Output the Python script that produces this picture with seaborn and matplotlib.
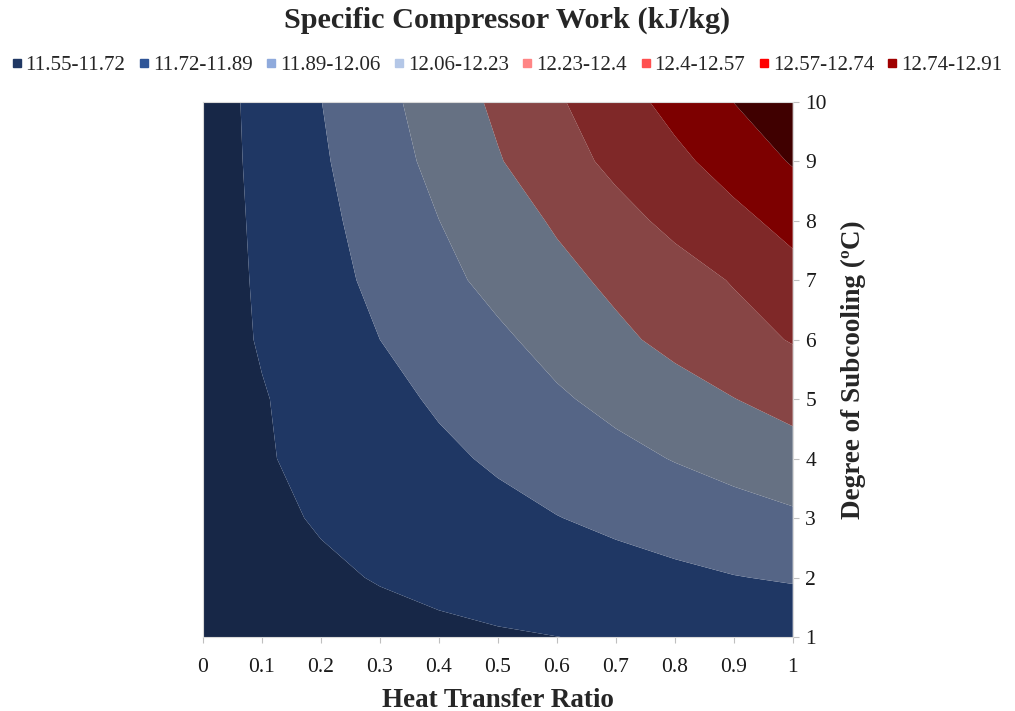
import matplotlib
matplotlib.use("Agg")
import numpy as np
import pandas as pd
import matplotlib.pyplot as plt
from matplotlib.lines import Line2D
import seaborn as sns

# heat transfer ratio (x) and degree of subcooling (y)
heat_ratio = [0.0, 0.1, 0.2, 0.3, 0.4, 0.5, 0.6, 0.7, 0.8, 0.9, 1.0]
subcooling = [1, 2, 3, 4, 5, 6, 7, 8, 9, 10]

# specific compressor work (kJ/kg), one row per subcooling degree
w_sc1 = [11.639, 11.653, 11.666, 11.680, 11.693, 11.707, 11.719, 11.734, 11.747, 11.761, 11.774]
w_sc2 = [11.647, 11.673, 11.700, 11.727, 11.753, 11.779, 11.806, 11.832, 11.858, 11.885, 11.904]
w_sc3 = [11.650, 11.692, 11.731, 11.770, 11.808, 11.847, 11.886, 11.923, 11.961, 11.998, 12.035]
w_sc4 = [11.648, 11.707, 11.758, 11.809, 11.860, 11.911, 11.963, 12.016, 12.067, 12.115, 12.162]
w_sc5 = [11.645, 11.711, 11.778, 11.844, 11.910, 11.975, 12.040, 12.103, 12.165, 12.227, 12.287]
w_sc6 = [11.648, 11.732, 11.811, 11.890, 11.962, 12.033, 12.113, 12.197, 12.272, 12.341, 12.410]
w_sc7 = [11.646, 11.740, 11.834, 11.927, 12.018, 12.104, 12.185, 12.263, 12.335, 12.410, 12.511]
w_sc8 = [11.644, 11.748, 11.852, 11.955, 12.059, 12.154, 12.249, 12.347, 12.439, 12.526, 12.623]
w_sc9 = [11.644, 11.757, 11.871, 11.987, 12.104, 12.219, 12.332, 12.438, 12.532, 12.639, 12.753]
w_sc10 = [11.642, 11.765, 11.888, 12.012, 12.137, 12.260, 12.381, 12.501, 12.621, 12.742, 12.883]

levels = [11.55, 11.72, 11.89, 12.06, 12.23, 12.40, 12.57, 12.74, 12.91]
band_labels = ["11.55-11.72", "11.72-11.89", "11.89-12.06", "12.06-12.23",
               "12.23-12.4", "12.4-12.57", "12.57-12.74", "12.74-12.91"]

fill_colors = ["#172747", "#1f3764", "#556586", "#667183",
               "#874545", "#7f2828", "#7d0000", "#400000"]
legend_colors = ["#203864", "#2f5597", "#8faadc", "#b4c7e7",
                 "#ff8585", "#ff5050", "#ff0000", "#a00000"]

grid = pd.DataFrame([w_sc1, w_sc2, w_sc3, w_sc4, w_sc5, w_sc6, w_sc7, w_sc8, w_sc9, w_sc10],
                    index=subcooling, columns=heat_ratio)

sns.set_theme(style="white")
plt.rcParams['font.family'] = ['Liberation Serif', 'DejaVu Serif']

fig = plt.figure(figsize=(10.15, 7.11), dpi=100)
ax = fig.add_axes([0.2, 0.104, 0.581, 0.753])

ax.contourf(grid.columns.values, grid.index.values, grid.values,
            levels=levels, colors=fill_colors, antialiased=True)

ax.set_xlim(0, 1)
ax.set_ylim(1, 10)
ax.set_xticks(heat_ratio)
ax.set_xticklabels(["0", "0.1", "0.2", "0.3", "0.4", "0.5", "0.6", "0.7", "0.8", "0.9", "1"])
ax.set_yticks(subcooling)
ax.yaxis.tick_right()
ax.yaxis.set_label_position("right")
ax.tick_params(axis="both", labelsize=15.5, colors="#bfbfbf", labelcolor="#1a1a1a",
               length=4, width=0.8, direction="out")
ax.tick_params(axis="x", pad=11, bottom=True)
ax.tick_params(axis="y", pad=5, right=True, left=False)
for sp in ax.spines.values():
    sp.set_color("#d9d9d9")
    sp.set_linewidth(0.8)

ax.set_xlabel("Heat Transfer Ratio", fontsize=19.5, fontweight="bold", labelpad=8)
ax.set_ylabel("Degree of Subcooling (ºC)", fontsize=19.5, fontweight="bold", labelpad=10)

fig.text(0.5, 1 - 20 / 711, "Specific Compressor Work (kJ/kg)", fontsize=21.8,
         fontweight="bold", ha="center", va="center")

handles = [Line2D([0], [0], marker="s", linestyle="none", markersize=6,
                  markerfacecolor=c, markeredgecolor=c) for c in legend_colors]
fig.legend(handles, band_labels, loc="center", bbox_to_anchor=(0.499, 0.908), ncol=8,
           frameon=False, fontsize=15.1, handlelength=0.6, handletextpad=0.13,
           columnspacing=0.58, borderaxespad=0, borderpad=0)

plt.savefig("out.png", dpi=100)
